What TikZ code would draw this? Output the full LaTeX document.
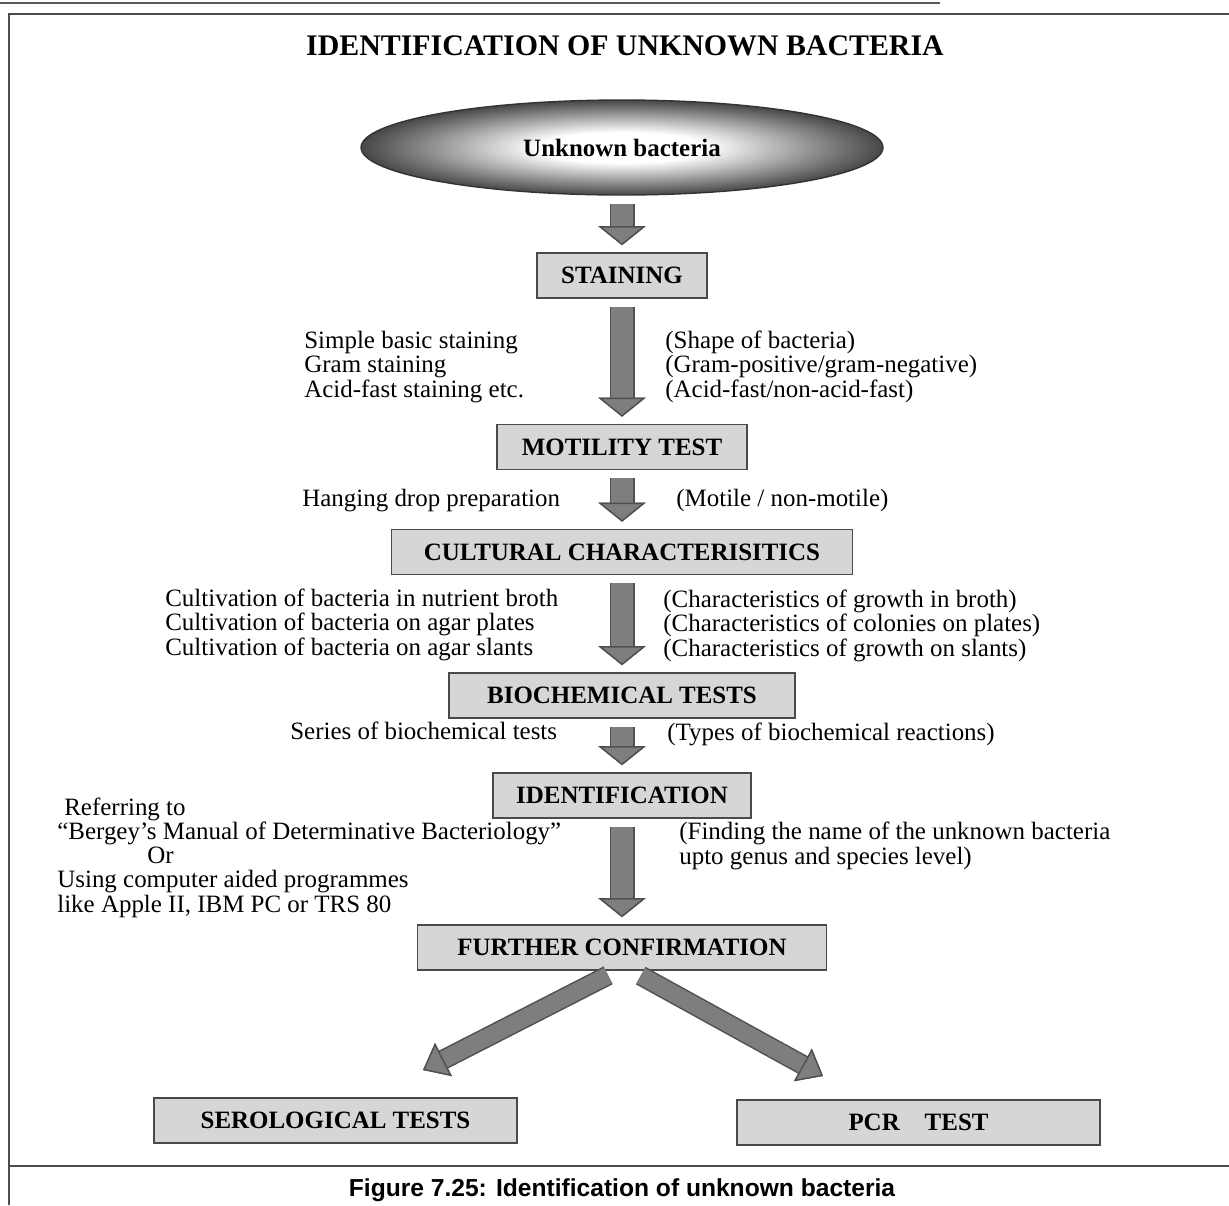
\documentclass[tikz,border=0pt]{standalone}
\usepackage{fontspec}
\setmainfont{Liberation Serif}
\newfontfamily\capfont{Liberation Sans}
\usetikzlibrary{arrows.meta, shapes.geometric}
\definecolor{boxgray}{HTML}{D6D6D6}
\definecolor{boxedge}{HTML}{4A4A4A}
\definecolor{arrowgray}{HTML}{7E7E7E}
\definecolor{arrowedge}{HTML}{505050}
\pgfdeclareradialshading{cellshade}{\pgfpoint{0bp}{0bp}}{color(0bp)=(white); color(8bp)=(white); color(25bp)=(black!72); color(50bp)=(black!72)}

\begin{document}
\begin{tikzpicture}[x=0.02cm, y=-0.02cm,
    testbox/.style={draw=boxedge, line width=0.9pt, fill=boxgray, minimum height=0.9cm, inner sep=0pt, font=\fontsize{14.2}{16}\selectfont\bfseries},
    note/.style={anchor=base west, align=left, inner sep=0pt, font=\fontsize{14.2}{13.8}\selectfont},
    flow/.style={draw=arrowgray, line width=0.44cm, shorten <=0.16cm, shorten >=0.14cm,
        -{Triangle[width=0.94cm, length=0.38cm, line width=0.8pt, color=arrowedge, fill=arrowgray]},
        preaction={draw=arrowedge, line width=0.50cm, -{Triangle[width=0.94cm, length=0.38cm, line width=0.8pt, color=arrowedge]}}},
    diagflow/.style={draw=arrowgray, line width=0.34cm, shorten <=0.2cm,
        -{Triangle[width=0.74cm, length=0.46cm, line width=0.8pt, color=arrowedge, fill=arrowgray]},
        preaction={draw=arrowedge, line width=0.40cm, -{Triangle[width=0.74cm, length=0.46cm, line width=0.8pt, color=arrowedge]}}}]
    \useasboundingbox (0,0) rectangle (1229,1205);
    \fill [white] (0,0) rectangle (1229,1205);

    % page frame
    \draw [line width=1.6pt, black!65] (0,3) -- (940,3);
    \draw [line width=1.1pt, black!70] (9,1205) -- (9,14) -- (1229,14);
    \draw [line width=1.1pt, black!70] (9,1166) -- (1229,1166);

    \node (title) at (625,55) [anchor=base, inner sep=0pt, font=\fontsize{17}{20}\selectfont\bfseries] {IDENTIFICATION OF UNKNOWN BACTERIA};

    \node (cell) at (622,147.5) [ellipse, draw=black!80, line width=0.8pt, shade, shading=cellshade, minimum width=10.44cm, minimum height=1.9cm, font=\fontsize{14.2}{16}\selectfont\bfseries] {Unknown bacteria};

    \node (staining) at (622,275.5) [testbox, minimum width=3.4cm] {STAINING};
    \node (motility) at (622,447) [testbox, minimum width=5.0cm] {MOTILITY TEST};
    \node (cultural) at (622,552) [testbox, minimum width=9.22cm] {CULTURAL CHARACTERISITICS};
    \node (biochem) at (622,695.5) [testbox, minimum width=6.92cm] {BIOCHEMICAL TESTS};
    \node (ident) at (622,795.5) [testbox, minimum width=5.16cm] {IDENTIFICATION};
    \node (further) at (622,947.5) [testbox, minimum width=8.18cm] {FURTHER CONFIRMATION};
    \node (sero) at (335.5,1120.5) [testbox, minimum width=7.26cm] {SEROLOGICAL TESTS};
    \node (pcr) at (918.5,1122.5) [testbox, minimum width=7.26cm] {PCR\quad TEST};

    % side notes (placed by the baseline of their last line)
    \node (stainl) at (304,397) [note] {Simple basic staining\\Gram staining\\Acid-fast staining etc.};
    \node (stainr) at (665,397) [note] {(Shape of bacteria)\\(Gram-positive/gram-negative)\\(Acid-fast/non-acid-fast)};
    \node (motill) at (302,506) [note] {Hanging drop preparation};
    \node (motilr) at (676,506) [note] {(Motile / non-motile)};
    \node (cultl) at (165,655) [note] {Cultivation of bacteria in nutrient broth\\Cultivation of bacteria on agar plates\\Cultivation of bacteria on agar slants};
    \node (cultr) at (663,656) [note] {(Characteristics of growth in broth)\\(Characteristics of colonies on plates)\\(Characteristics of growth on slants)};
    \node (biochl) at (290,739) [note] {Series of biochemical tests};
    \node (biochr) at (667,740) [note] {(Types of biochemical reactions)};
    \node (identl) at (57,912) [note] {\hspace*{0.14cm}Referring to\\“Bergey’s Manual of Determinative Bacteriology”\\\hspace*{1.8cm}Or\\Using computer aided programmes\\like Apple II, IBM PC or TRS 80};
    \node (identr) at (679,864) [note] {(Finding the name of the unknown bacteria\\upto genus and species level)};

    % arrows
    \draw [flow] (cell.south) -- (staining.north);
    \draw [flow] (staining.south) -- (motility.north);
    \draw [flow] (motility.south) -- (cultural.north);
    \draw [flow] (cultural.south) -- (biochem.north);
    \draw [flow] (biochem.south) -- (ident.north);
    \draw [flow] (ident.south) -- (further.north);
    \coordinate (serotip) at (423,1070);
    \coordinate (pcrtip) at (823,1076);
    \draw [diagflow] ([xshift=-0.1cm]further.south) -- (serotip);
    \draw [diagflow] ([xshift=0.2cm]further.south) -- (pcrtip);

    \node (caption) at (622,1196) [anchor=base, inner sep=0pt, font=\capfont\fontsize{14}{16}\selectfont\bfseries] {Figure 7.25: Identification of unknown bacteria};
\end{tikzpicture}
\end{document}
